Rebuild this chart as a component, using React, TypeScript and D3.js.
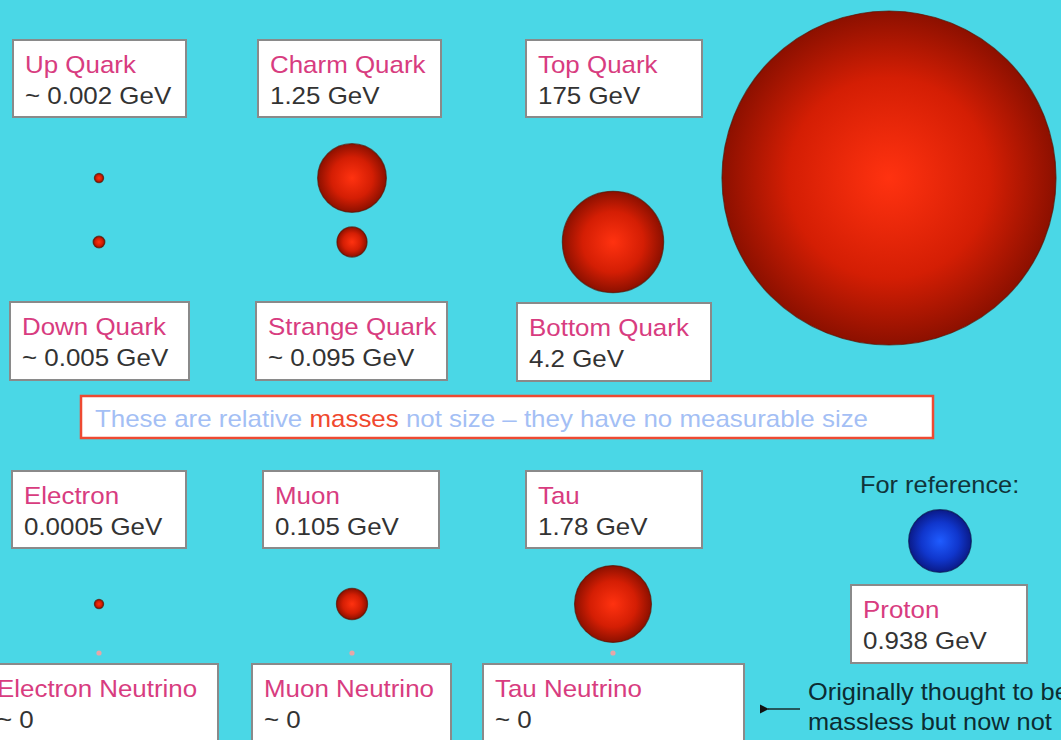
import React from "react";
import * as d3 from "d3";

// ---- data ----
const particles = [
  "Up Quark", "Down Quark", "Charm Quark", "Strange Quark", "Top Quark", "Bottom Quark",
  "Electron", "Muon", "Tau", "Electron Neutrino", "Muon Neutrino", "Tau Neutrino", "Proton",
];
const massLabels = [
  "~ 0.002 GeV", "~ 0.005 GeV", "1.25 GeV", "~ 0.095 GeV", "175 GeV", "4.2 GeV",
  "0.0005 GeV", "0.105 GeV", "1.78 GeV", "~ 0", "~ 0", "~ 0", "0.938 GeV",
];
const massValues = [0.002, 0.005, 1.25, 0.095, 175, 4.2, 0.0005, 0.105, 1.78, 0, 0, 0, 0.938];
const noteParts = ["These are relative ", "masses", " not size \u2013 they have no measurable size"];
const refTitle = "For reference:";
const footnote = ["Originally thought to be", "massless but now not"];

// ---- layout (positions only) ----
const circlePos: [number, number][] = [
  [99, 178], [99, 242], [352, 178], [352, 242], [889, 178], [613, 242],
  [99, 604], [352, 604], [613, 604], [99, 653], [352, 653], [613, 653], [940, 541],
];
const boxPos: [number, number, number, number][] = [
  [13, 40, 186, 117], [10, 302, 189, 380], [258, 40, 441, 117], [256, 302, 447, 380],
  [526, 40, 702, 117], [517, 303, 711, 381], [12, 471, 186, 548], [263, 471, 439, 548],
  [526, 471, 702, 548], [-15, 664, 218, 760], [252, 664, 451, 760], [483, 664, 744, 760],
  [851, 585, 1027, 663],
];

const W = 1061, H = 740;
const FONT = "'Liberation Sans', Arial, sans-serif";
const SX = 1.08;

function T({ x, y, size, fill, children }: any) {
  return (
    <text transform={`translate(${x},${y}) scale(${SX},1)`} fontSize={size} fill={fill}>{children}</text>
  );
}

export default function App() {
  const r = d3.scalePow().exponent(0.32).domain([0, 175]).range([0, 167]);
  return (
    <svg width={W} height={H} style={{ position: "fixed", left: 0, top: 0, display: "block" }}
      fontFamily={FONT}>
      <defs>
        <radialGradient id="red" cx="50%" cy="50%" r="50%">
          <stop offset="0%" stopColor="#ff3210" />
          <stop offset="60%" stopColor="#d41e04" />
          <stop offset="100%" stopColor="#8c1000" />
        </radialGradient>
        <radialGradient id="blue" cx="50%" cy="50%" r="50%">
          <stop offset="0%" stopColor="#1f5cff" />
          <stop offset="60%" stopColor="#1036cc" />
          <stop offset="100%" stopColor="#0a1a88" />
        </radialGradient>
        <marker id="arr" viewBox="0 0 10 10" refX="1" refY="5" markerWidth="7" markerHeight="7" orient="auto-start-reverse">
          <path d="M10,0 L0,5 L10,10 z" fill="#111" />
        </marker>
      </defs>
      <rect width={W} height={H} fill="#4ad7e6" />

      {particles.map((p, i) => {
        const [cx, cy] = circlePos[i];
        const m = massValues[i];
        if (m === 0) {
          return <circle key={"c" + i} cx={cx} cy={cy} r={2.6} fill="#e6a6a8" />;
        }
        const rad = Math.max(4.6, r(m));
        return (
          <circle key={"c" + i} cx={cx} cy={cy} r={rad}
            fill={p === "Proton" ? "url(#blue)" : "url(#red)"}
            stroke={p === "Proton" ? "#08124a" : "#5a1200"} strokeWidth={1.2} strokeOpacity={0.7} />
        );
      })}

      {particles.map((p, i) => {
        const [x0, y0, x1, y1] = boxPos[i];
        return (
          <g key={"b" + i}>
            <rect x={x0 + 1} y={y0 + 1} width={x1 - x0} height={y1 - y0} fill="#3a8f9a" opacity={0.35} />
            <rect x={x0} y={y0} width={x1 - x0} height={y1 - y0} fill="#ffffff" stroke="#8a8a8a" strokeWidth={2} />
            <T x={x0 + 12} y={y0 + 33} size={24} fill="#d83c80">{p}</T>
            <T x={x0 + 12} y={y0 + 63.5} size={24} fill="#333333">{massLabels[i]}</T>
          </g>
        );
      })}

      <rect x={81} y={396} width={852} height={42} fill="#ffffff" stroke="#ee4a32" strokeWidth={2.5} />
      <text x={95} y={427} fontSize={24} fill="#a4bff5" textLength={773} lengthAdjust="spacingAndGlyphs">
        <tspan>{noteParts[0]}</tspan>
        <tspan fill="#f0482e">{noteParts[1]}</tspan>
        <tspan>{noteParts[2]}</tspan>
      </text>

      <T x={860} y={493} size={23.5} fill="#10343a">{refTitle}</T>

      <line x1={800} y1={709} x2={768} y2={709} stroke="#111" strokeWidth={1.3} markerEnd="url(#arr)" />
      <T x={808} y={700} size={23.5} fill="#0c2c32">{footnote[0]}</T>
      <T x={808} y={730} size={23.5} fill="#0c2c32">{footnote[1]}</T>
    </svg>
  );
}
